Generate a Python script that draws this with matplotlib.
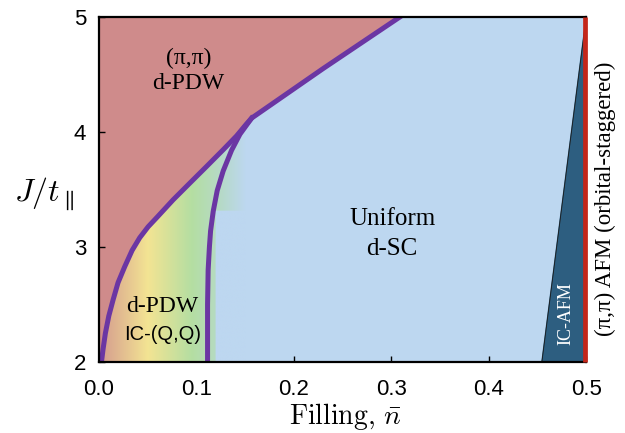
import numpy as np
import matplotlib
matplotlib.use('Agg')
import matplotlib.pyplot as plt
from matplotlib.patches import Polygon
from matplotlib.colors import to_rgb

plt.rcParams['mathtext.fontset'] = 'cm'

# phase boundaries (filling, J/t)
outer_x = [0.0028, 0.0044, 0.0068, 0.0103, 0.0147, 0.0198, 0.0267, 0.0342,
           0.042, 0.0506, 0.060, 0.0763, 0.0934, 0.1106, 0.1276, 0.1413,
           0.1516, 0.1568, 0.230, 0.309]
outer_j = [2.0, 2.11, 2.25, 2.40, 2.54, 2.69, 2.83, 2.97,
           3.08, 3.175, 3.26, 3.41, 3.555, 3.70, 3.845, 3.965,
           4.07, 4.12, 4.55, 5.0]
inner_x = [0.1568, 0.1448, 0.1362, 0.1276, 0.1215, 0.1174, 0.1147, 0.1135,
           0.1122, 0.1116, 0.1116]
inner_j = [4.12, 3.98, 3.84, 3.66, 3.49, 3.31, 3.14, 3.0,
           2.8, 2.5, 2.0]
afm_x = [0.4545, 0.5, 0.5]
afm_j = [2.0, 5.0, 2.0]

# colour stops of the incommensurate PDW gradient
grad_x = [0.0, 0.05, 0.095, 0.125, 0.15]
grad_colors = ['#d49a8e', '#f3e493', '#b4dea2', '#b6dac8', '#bdd7f0']

xticks = [0.0, 0.1, 0.2, 0.3, 0.4, 0.5]
yticks = [2, 3, 4, 5]

red = '#cf8b8b'
blue = '#bdd7f0'
purple = '#6b36a3'

fig = plt.figure(figsize=(6.25, 4.33), dpi=100)
ax = fig.add_axes([0.158, 0.164, 0.78, 0.797])
ax.set_facecolor(red)

# uniform d-SC region (everything to the right of the outer boundary)
sc_pts = list(zip(outer_x, outer_j)) + [(0.5, 5.0), (0.5, 2.0)]
ax.add_patch(Polygon(sc_pts, closed=True, facecolor=blue, edgecolor='none', zorder=1))

# gradient for the IC-(Q,Q) d-PDW region
nx, ny = 300, 200
gx = np.linspace(0, 0.15, nx)
gy = np.linspace(2, 4.15, ny)
cols = np.array([to_rgb(c) for c in grad_colors])
row = np.stack([np.interp(gx, grad_x, cols[:, k]) for k in range(3)], axis=-1)
img = np.repeat(row[None, :, :], ny, axis=0)
img[(gy[:, None] < 3.31) & (gx[None, :] > 0.119)] = to_rgb(blue)
im = ax.imshow(img, extent=[0, 0.15, 2, 4.15], origin='lower', aspect='auto',
               interpolation='bilinear', zorder=2)
im.set_clip_path(Polygon(sc_pts, closed=True, transform=ax.transData))

# IC-AFM wedge
ax.fill(afm_x, afm_j, color='#2d5e80', zorder=3)
ax.plot(afm_x[:2], afm_j[:2], color='#1a1a1a', lw=0.6, zorder=3)

# boundaries
ax.plot(outer_x, outer_j, color=purple, lw=3.6, zorder=4, solid_joinstyle='round')
ax.plot(inner_x, inner_j, color=purple, lw=3.6, zorder=4, solid_joinstyle='round')
ax.plot([0.4992, 0.4992], [2, 5], color='#c4261a', lw=3.4, zorder=8,
        clip_on=False, solid_capstyle='butt')

ax.set_xlim(0, 0.5)
ax.set_ylim(2, 5)
ax.set_xticks(xticks)
ax.set_xticklabels(['%.1f' % v for v in xticks])
ax.set_yticks(yticks)
ax.tick_params(direction='in', length=4.5, width=1, labelsize=16)
ax.tick_params(axis='x', pad=12)
ax.tick_params(axis='y', pad=9)
for lab in ax.get_xticklabels() + ax.get_yticklabels():
    lab.set_family('Liberation Sans')
for s in ax.spines.values():
    s.set_linewidth(1.6)
    s.set_zorder(6)

ax.set_xlabel(r'$\mathrm{Filling},\,\bar{n}$', fontsize=20)
ax.xaxis.set_label_coords(0.505, -0.112)
ax.set_ylabel(r'$J/t_{\parallel}$', fontsize=23, rotation=0, ha='center', va='center')
ax.yaxis.set_label_coords(-0.113, 0.487)

serif = 'Liberation Serif'
ax.text(0.092, 4.64, '(\u03c0,\u03c0)', ha='center', va='center',
        fontsize=17, family=serif, zorder=7)
ax.text(0.092, 4.42, 'd-PDW', ha='center', va='center',
        fontsize=17, family=serif, zorder=7)
ax.text(0.0647, 2.48, 'd-PDW', ha='center', va='center', fontsize=17,
        family=serif, zorder=7)
ax.text(0.066, 2.24, 'IC-(Q,Q)', ha='center', va='center', fontsize=14.5,
        family='Liberation Sans', zorder=7)
ax.text(0.301, 3.24, 'Uniform', ha='center', va='center', fontsize=18,
        family=serif, zorder=7)
ax.text(0.301, 2.98, 'd-SC', ha='center', va='center', fontsize=18,
        family=serif, zorder=7)
ax.text(0.4795, 2.42, 'IC-AFM', ha='center', va='center', rotation=90,
        fontsize=13, family=serif, color='white', zorder=7)
ax.text(0.5195, 3.42, '(\u03c0,\u03c0) AFM (orbital-staggered)', ha='center',
        va='center', rotation=90, fontsize=16.5, family=serif, zorder=7,
        clip_on=False)

fig.savefig('out.png', dpi=100)
